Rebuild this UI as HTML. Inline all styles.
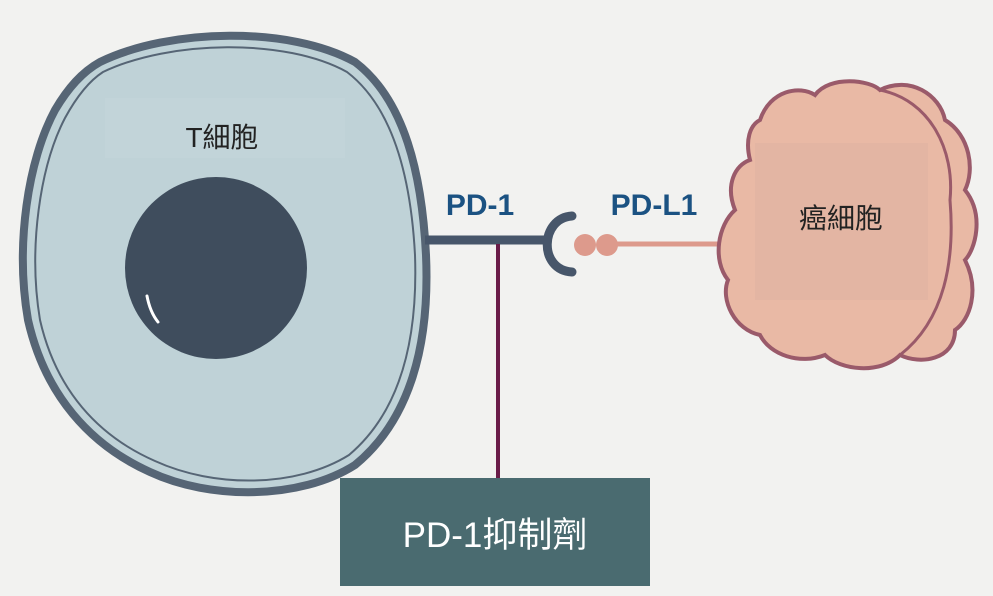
<!DOCTYPE html>
<html><head><meta charset="utf-8"><style>
html,body{margin:0;padding:0;background:#f2f2f0;}
body{width:993px;height:596px;overflow:hidden;position:relative;font-family:"Liberation Sans","Noto Sans CJK TC",sans-serif;}
</style></head><body>
<svg width="993" height="596" viewBox="0 0 993 596" style="position:absolute;left:0;top:0">
<rect width="993" height="596" fill="#f2f2f0"/>
<!-- T cell -->
<path d="M100 62 C170 28 290 26 355 62 C405 100 422 175 426 255 C430 345 410 420 355 465 C300 500 210 500 150 472 C90 445 45 395 28 320 C15 245 28 160 55 110 C68 88 82 72 100 62 Z" fill="#bfd2d7" stroke="#566575" stroke-width="8"/>
<path d="M103 72 C170 40 286 38 347 72 C394 108 411 180 415 255 C418 340 400 412 349 455 C296 488 214 488 155 461 C98 436 56 390 40 320 C28 248 40 166 65 118 C77 96 89 81 103 72 Z" fill="none" stroke="#566575" stroke-width="2"/>
<circle cx="216" cy="268" r="91" fill="#3f4d5d"/>
<path d="M147 296 Q150 312 158 322" stroke="#fff" stroke-width="3" fill="none" stroke-linecap="round"/>
<rect x="105" y="98" width="240" height="60" fill="#c4d6da" opacity="0.6"/>
<text x="222" y="147" font-size="28" fill="#222" text-anchor="middle">T細胞</text>
<!-- connectors -->
<line x1="425" y1="240" x2="545" y2="240" stroke="#47566a" stroke-width="9"/>
<line x1="498" y1="244" x2="498" y2="480" stroke="#6a1c48" stroke-width="4"/>
<path d="M572 216 C540 218 538 270 572 272" fill="none" stroke="#47566a" stroke-width="9" stroke-linecap="round"/>
<line x1="610" y1="244" x2="735" y2="244" stroke="#dd9a8c" stroke-width="5"/>
<circle cx="585" cy="245" r="11" fill="#dd9a8c"/>
<circle cx="607" cy="245" r="11" fill="#dd9a8c"/>
<text x="480" y="215" font-size="30" font-weight="bold" fill="#1b5282" text-anchor="middle">PD-1</text>
<text x="654" y="215" font-size="30" font-weight="bold" fill="#1b5282" text-anchor="middle">PD-L1</text>
<!-- cancer cell -->
<path d="M760 120 C770 90 800 85 815 95 C830 75 870 80 880 90 C910 75 940 95 945 120 C970 135 975 170 965 190 C985 215 975 250 965 260 C980 290 970 320 955 330 C955 360 920 365 900 355 C880 375 840 370 825 355 C800 365 770 355 760 335 C735 330 720 300 728 280 C712 260 718 225 735 210 C725 185 735 165 750 160 C745 140 750 125 760 120 Z" fill="#e9b9a5" stroke="#9a5a6a" stroke-width="4"/>
<path d="M880 90 C930 100 955 150 950 200 C955 260 945 320 900 355" fill="none" stroke="#9a5a6a" stroke-width="3"/>
<rect x="755" y="143" width="173" height="157" fill="#e3b5a3"/>
<text x="841" y="228" font-size="28" fill="#222" text-anchor="middle">癌細胞</text>
<!-- inhibitor box -->
<rect x="340" y="478" width="310" height="108" fill="#4a6b70"/>
<text x="495" y="547" font-size="35" fill="#fff" text-anchor="middle">PD-1抑制劑</text>
</svg>
</body></html>
